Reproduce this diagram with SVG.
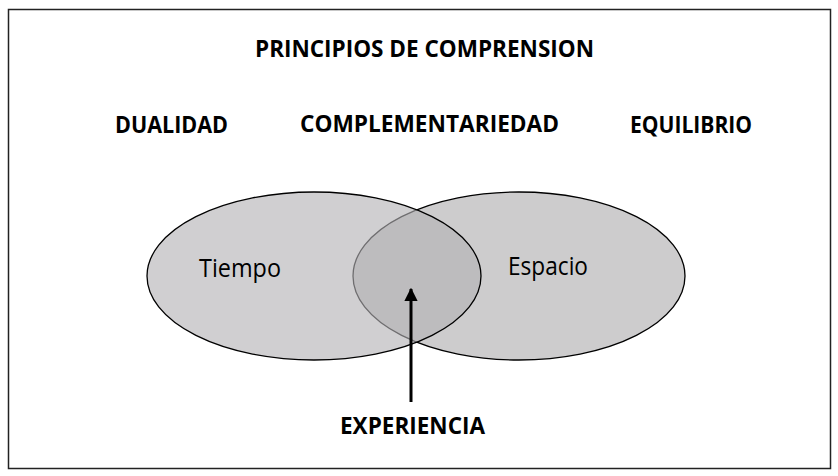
<svg xmlns="http://www.w3.org/2000/svg" width="838" height="476" viewBox="0 0 838 476">
<style>
.b{font-family:"Open Sans","Noto Sans","Liberation Sans",sans-serif;font-weight:bold;font-size:23px;fill:#000}
.n{font-family:"Open Sans","Noto Sans","Liberation Sans",sans-serif;font-size:25px;fill:#000}
</style>
<defs>
<marker id="ah" viewBox="0 0 10 10" refX="9" refY="5" markerWidth="4.4" markerHeight="4.4" orient="auto" markerUnits="strokeWidth">
<path d="M0,0 L10,5 L0,10 z" fill="#000"/>
</marker>
</defs>
<rect x="8.5" y="9.5" width="822" height="459" fill="#fff" stroke="#222" stroke-width="1.5"/>
<g id="title"><text class="b" x="255" y="57" style="font-size:24px" textLength="339" lengthAdjust="spacingAndGlyphs">PRINCIPIOS DE COMPRENSION</text></g>
<g id="dualidad"><text class="b" x="115" y="133" textLength="113" lengthAdjust="spacingAndGlyphs">DUALIDAD</text></g>
<g id="complementariedad"><text class="b" x="300" y="132" textLength="259" lengthAdjust="spacingAndGlyphs">COMPLEMENTARIEDAD</text></g>
<g id="equilibrio"><text class="b" x="630" y="133" textLength="122" lengthAdjust="spacingAndGlyphs">EQUILIBRIO</text></g>
<g id="espacio">
<ellipse cx="519" cy="276" rx="166" ry="84" fill="#cdcccd" stroke="#000" stroke-width="1.3"/>
<text class="n" x="508" y="275" textLength="80" lengthAdjust="spacingAndGlyphs">Espacio</text>
</g>
<g id="tiempo">
<ellipse cx="314" cy="276" rx="167" ry="84" fill="rgb(179,178,180)" fill-opacity="0.62" stroke="#000" stroke-width="1.3"/>
<text class="n" x="199" y="277" textLength="82" lengthAdjust="spacingAndGlyphs">Tiempo</text>
</g>
<g id="connectors">
<line x1="411" y1="402" x2="411" y2="289" stroke="#000" stroke-width="3" marker-end="url(#ah)"/>
</g>
<g id="experiencia"><text class="b" x="340" y="434" textLength="145" lengthAdjust="spacingAndGlyphs">EXPERIENCIA</text></g>
</svg>
